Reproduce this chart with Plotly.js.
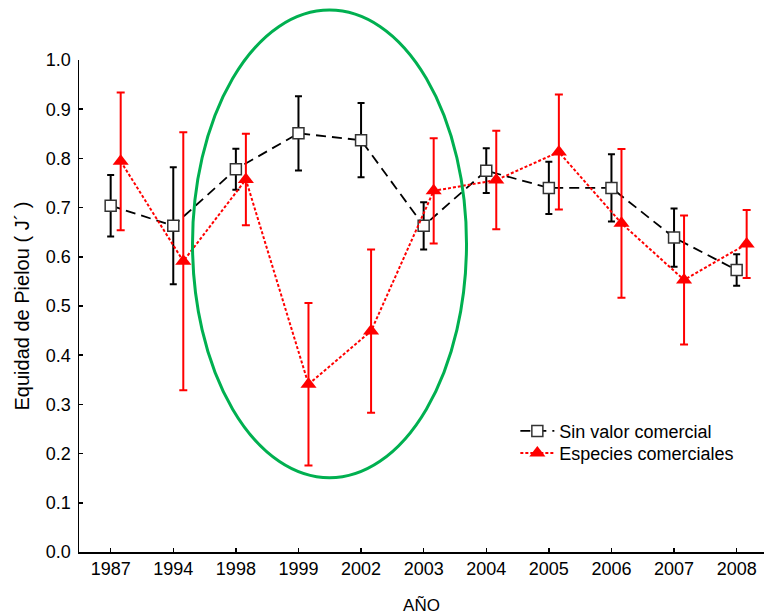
<!DOCTYPE html>
<html><head><meta charset="utf-8">
<script src="https://cdn.plot.ly/plotly-3.0.1.min.js"></script>
<style>html,body{margin:0;padding:0;background:#fff}</style>
</head><body><div id="chart" style="width:764px;height:615px"></div>
<script>
// Data
const years = ['1987','1994','1998','1999','2002','2003','2004','2005','2006','2007','2008'];
const sinValor = [0.704,0.663,0.778,0.851,0.837,0.663,0.775,0.740,0.740,0.639,0.573];
const sinValorErr = [0.0625,0.119,0.0415,0.0755,0.0755,0.048,0.0455,0.053,0.0685,0.059,0.032];
const comerciales = [0.794,0.591,0.757,0.341,0.449,0.734,0.756,0.813,0.668,0.553,0.626];
const comercialesErr = [0.140,0.262,0.093,0.165,0.166,0.107,0.100,0.117,0.151,0.131,0.069];
const yTickVals = [0,0.1,0.2,0.3,0.4,0.5,0.6,0.7,0.8,0.9,1.0];

const idx = years.map((_, i) => i);
const redOffset = 0.16;
const FONT = 'Liberation Sans, Arial, sans-serif';

const traces = [
  {
    x: idx, y: sinValor, name: 'Sin valor comercial', type: 'scatter', mode: 'lines+markers',
    legend: 'legend',
    line: {color: '#000', width: 1.8, dash: '10px,6px'},
    marker: {symbol: 'square', size: 11, color: '#fff', line: {color: '#333', width: 1.5}},
    error_y: {type: 'data', array: sinValorErr, visible: true, color: '#000', thickness: 2, width: 3.5}
  },
  {
    x: idx.map(i => i + redOffset), y: comerciales, name: 'Especies comerciales', type: 'scatter', mode: 'lines+markers',
    legend: 'legend2',
    line: {color: '#ff0000', width: 2, dash: '3px,2px'},
    marker: {symbol: 'triangle-up', size: 14, color: '#ff0000'},
    error_y: {type: 'data', array: comercialesErr, visible: true, color: '#ff0000', thickness: 2, width: 4}
  }
];

const legendCommon = {xanchor: 'left', yanchor: 'middle', bgcolor: 'rgba(0,0,0,0)',
  font: {family: FONT, size: 18}, itemwidth: 34};

const layout = {
  width: 764, height: 615,
  margin: {l: 79, r: 0, t: 60, b: 63},
  paper_bgcolor: '#fff', plot_bgcolor: '#fff',
  font: {family: FONT, color: '#000', size: 16},
  showlegend: true,
  legend: Object.assign({x: 0.637, y: 0.2455}, legendCommon),
  legend2: Object.assign({x: 0.637, y: 0.2008}, legendCommon),
  xaxis: {
    range: [-0.506, 10.437], tickmode: 'array', tickvals: idx, ticktext: years,
    showgrid: false, zeroline: false, showline: true, linecolor: '#000', linewidth: 1.5,
    ticks: 'inside', ticklen: 4, tickwidth: 1.5, tickcolor: '#000',
    tickfont: {family: FONT, size: 18},
    title: {text: 'AÑO', font: {family: FONT, size: 17}}
  },
  yaxis: {
    range: [0, 1.0], tickmode: 'array', tickvals: yTickVals, ticktext: yTickVals.map(v => v.toFixed(1)),
    showgrid: false, zeroline: false, showline: true, linecolor: '#000', linewidth: 1.5,
    ticks: 'inside', ticklen: 4, tickwidth: 1.5, tickcolor: '#000',
    tickfont: {family: FONT, size: 18}, ticklabelstandoff: 3,
    title: {text: 'Equidad de Pielou ( J´ )', font: {family: FONT, size: 20}}
  },
  shapes: [
    {type: 'circle', xref: 'paper', yref: 'paper', x0: 0.1657, x1: 0.5657, y0: 0.151, y1: 1.1017,
     line: {color: '#00b050', width: 3}, fillcolor: 'rgba(0,0,0,0)', layer: 'above'}
  ]
};

Plotly.newPlot('chart', traces, layout, {displayModeBar: false, staticPlot: true});
</script></body></html>
